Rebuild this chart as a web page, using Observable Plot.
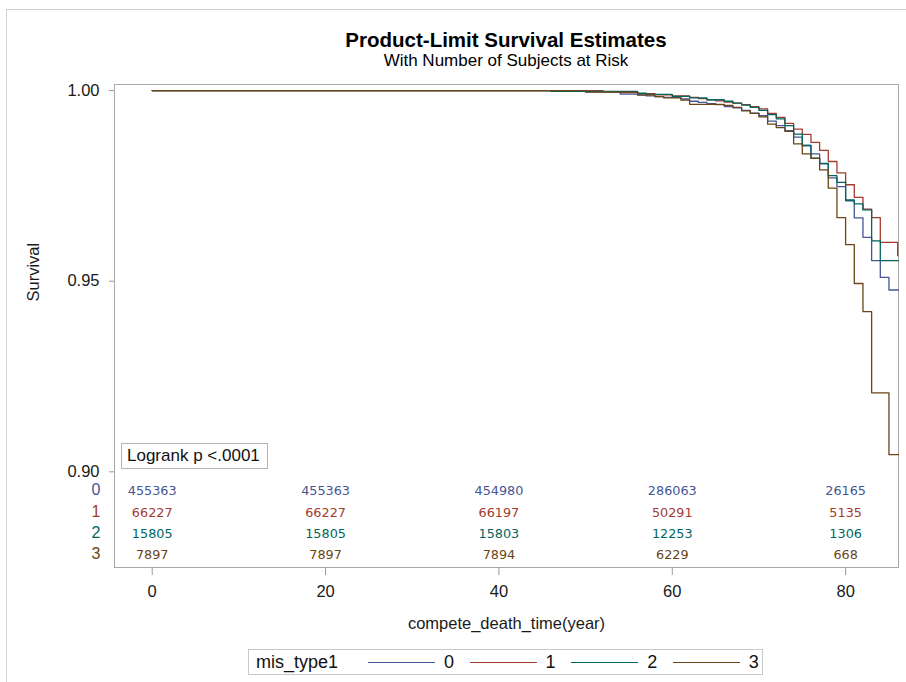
<!DOCTYPE html>
<html>
<head>
<meta charset="utf-8">
<script src="https://cdn.jsdelivr.net/npm/d3@7"></script>
<script src="https://cdn.jsdelivr.net/npm/@observablehq/plot@0.6"></script>
<style>
  html, body { margin: 0; padding: 0; background: #fff; }
  #wrap { position: relative; width: 906px; height: 682px; overflow: hidden; font-family: "Liberation Sans", Arial, sans-serif; color: #000; }
  #border { position: absolute; left: 6px; top: 9px; width: 920px; height: 720px; border: 1px solid #d0d0d0; box-sizing: border-box; }
  .title { position: absolute; left: 114px; width: 784px; text-align: center; white-space: nowrap; }
  #chart { position: absolute; left: 0; top: 70px; }
  #logrank { position: absolute; left: 121px; top: 443px; width: 147px; height: 26px; box-sizing: border-box; border: 1px solid #b4b4b4; background: #fff; font-size: 17px; line-height: 24px; padding-left: 5px; color: #111; white-space: nowrap; }
  #legend { position: absolute; left: 248px; top: 649px; width: 515px; height: 26px; box-sizing: border-box; border: 1px solid #c8c8c8; font-size: 18px; color: #111; }
  #legend span { position: absolute; top: 0; line-height: 24px; }
  #legend i { position: absolute; top: 12px; height: 1.3px; width: 67px; }
</style>
</head>
<body>
<div id="wrap">
  <div id="border"></div>
  <div class="title" style="top:29px;font-size:20.5px;font-weight:bold;line-height:22px;">Product-Limit Survival Estimates</div>
  <div class="title" style="top:51px;font-size:17px;line-height:20px;">With Number of Subjects at Risk</div>
  <div id="chart"></div>
  <div id="logrank">Logrank p &lt;.0001</div>
  <div id="legend"></div>
</div>
<script>
// ---- data ----
const groups = ["0", "1", "2", "3"];
const groupColors = ["#445694", "#A23A2E", "#01665E", "#6b4516"];
const legendTitle = "mis_type1";

const times0 = [0, 50, 54, 56, 57, 58, 59, 61, 62, 63, 64, 65, 66, 67, 68, 69, 70, 71, 72, 73, 74, 75, 76, 77, 78, 79, 80, 81, 82, 83, 84, 85, 86.1];
const surv0  = [1, 0.9997, 0.9991, 0.9988, 0.9986, 0.9984, 0.9982, 0.9978, 0.9972, 0.9969, 0.9966, 0.9963, 0.9958, 0.9955, 0.9948, 0.9941, 0.9934, 0.9920, 0.9908, 0.9895, 0.9878, 0.9856, 0.9834, 0.9808, 0.9771, 0.9748, 0.9711, 0.9666, 0.9615, 0.9554, 0.9510, 0.9477, 0.9477];

const times1 = [0, 52, 54, 56, 58, 60, 62, 63, 64, 65, 66, 67, 68, 69, 70, 71, 72, 73, 74, 75, 76, 77, 78, 79, 80, 81, 82, 83, 84, 86, 86.05];
const surv1  = [1, 0.9997, 0.9995, 0.9992, 0.9989, 0.9986, 0.9982, 0.9979, 0.9976, 0.9973, 0.9970, 0.9967, 0.9963, 0.9958, 0.9952, 0.9940, 0.9930, 0.9914, 0.9899, 0.9885, 0.9864, 0.9843, 0.9814, 0.9784, 0.9753, 0.9720, 0.9689, 0.9667, 0.9602, 0.9567, 0.9567];

const times2 = [0, 46, 56, 57, 60, 62, 64, 66, 67, 68, 69, 70, 71, 72, 73, 74, 75, 76, 77, 78, 79, 80, 81, 82, 83, 84, 86.1];
const surv2  = [1, 0.9998, 0.9993, 0.9990, 0.9985, 0.9981, 0.9976, 0.9972, 0.9967, 0.9962, 0.9956, 0.9948, 0.9937, 0.9926, 0.9908, 0.9886, 0.9856, 0.9823, 0.9809, 0.9777, 0.9759, 0.9713, 0.9703, 0.9687, 0.9606, 0.9554, 0.9554];

const times3 = [0, 50, 56, 58, 59, 61, 62, 66, 67, 68, 69, 70, 71, 72, 73, 74, 75, 76, 77, 78, 79, 80, 81, 82, 83, 85, 86.1];
const surv3  = [1, 0.9996, 0.9989, 0.9984, 0.9981, 0.9975, 0.9964, 0.9961, 0.9956, 0.9947, 0.9940, 0.9931, 0.9912, 0.9903, 0.9893, 0.9860, 0.9834, 0.9822, 0.9792, 0.9744, 0.9667, 0.9596, 0.9494, 0.9420, 0.9207, 0.9045, 0.9045];

const riskTimes = [0, 20, 40, 60, 80];
const risk0 = [455363, 455363, 454980, 286063, 26165];
const risk1 = [66227, 66227, 66197, 50291, 5135];
const risk2 = [15805, 15805, 15803, 12253, 1306];
const risk3 = [7897, 7897, 7894, 6229, 668];

const xTicks = [0, 20, 40, 60, 80];
const yTicks = [0.90, 0.95, 1.00];
const xLabel = "compete_death_time(year)";
const yLabel = "Survival";

// ---- build ----
const timesAll = [times0, times1, times2, times3];
const survAll = [surv0, surv1, surv2, surv3];
const riskAll = [risk0, risk1, risk2, risk3];

const survData = groups.flatMap((g, gi) =>
  timesAll[gi].map((t, j) => ({group: g, time: t, surv: survAll[gi][j]})));

const rowOffsets = [-72.5, -51, -30, -8.5];

const riskMarks = groups.flatMap((g, gi) => {
  const rows = riskTimes.map((t, j) => ({time: t, n: riskAll[gi][j]}));
  return [
    Plot.text(rows, {x: "time", text: d => String(d.n), frameAnchor: "bottom", dy: rowOffsets[gi],
      fill: groupColors[gi], fontSize: 12.8, fontFamily: "DejaVu Sans", textAnchor: "middle"}),
    Plot.text([g], {text: d => d, frameAnchor: "bottom-left", dx: -14, dy: rowOffsets[gi],
      fill: groupColors[gi], fontSize: 16, textAnchor: "end"})
  ];
});

const chart = Plot.plot({
  width: 906,
  height: 570,
  marginTop: 14,
  marginBottom: 73,
  marginLeft: 114,
  marginRight: 8,
  style: {fontFamily: "'Liberation Sans', Arial, sans-serif", color: "#1a1a1a", background: "transparent"},
  x: {domain: [-4.35, 86.1]},
  y: {domain: [0.8749, 1.0016]},
  color: {domain: groups, range: groupColors},
  marks: [
    Plot.frame({stroke: "#a8a8a8"}),
    Plot.axisY({ticks: yTicks, tickFormat: d3.format(".2f"), tickSize: 5, tickPadding: 10,
      fontSize: 16.5, stroke: "#999", label: null}),
    Plot.axisX({ticks: xTicks, tickFormat: d3.format("d"), tickSize: 8, tickPadding: 10,
      fontSize: 16.5, stroke: "#999", label: xLabel, labelAnchor: "center", labelArrow: "none", labelOffset: 61}),
    Plot.text([{label: yLabel, y: d3.mean(yTicks)}], {y: "y", text: "label", frameAnchor: "left",
      dx: -81, dy: -9, rotate: -90, textAnchor: "middle", fontSize: 16.5, fill: "#1a1a1a"}),
    Plot.line(survData, {x: "time", y: "surv", z: "group", stroke: "group", curve: "step-after", strokeWidth: 1.3}),
    ...riskMarks
  ]
});
chart.style.fontSize = "16.5px";
document.getElementById("chart").appendChild(chart);

// ---- legend ----
const leg = document.getElementById("legend");
const lt = document.createElement("span");
lt.textContent = legendTitle;
lt.style.left = "7px";
leg.appendChild(lt);
groups.forEach((g, i) => {
  const left = 119 + 101.6 * i;
  const line = document.createElement("i");
  line.style.left = left + "px";
  line.style.background = groupColors[i];
  leg.appendChild(line);
  const s = document.createElement("span");
  s.textContent = g;
  s.style.left = (left + 76) + "px";
  leg.appendChild(s);
});
</script>
</body>
</html>
